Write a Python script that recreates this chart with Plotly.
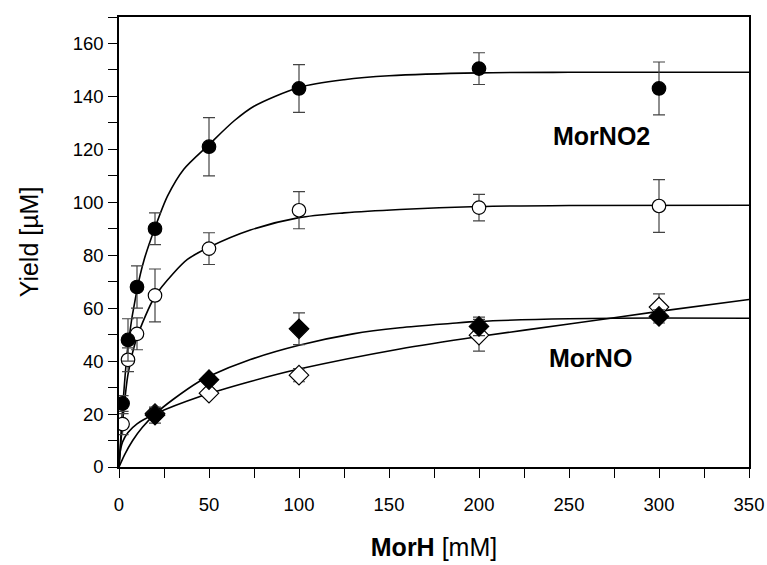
import plotly.graph_objects as go

# ---- data ----
conc = [2, 5, 10, 20, 50, 100, 200, 300]

no2_filled = [24, 48, 68, 90, 121, 143, 150.5, 143]
no2_filled_err = [3, 8, 8, 6, 11, 9, 6, 10]

no2_open = [16.2, 40.5, 50.3, 64.8, 82.5, 97, 98, 98.6]
no2_open_err = [4, 4.5, 6, 10, 6, 7, 5, 10]

conc_d = [20, 50, 100, 200, 300]
no_filled = [19.6, 33, 52.2, 53.1, 56.9]
no_filled_err = [3, 1.5, 6, 3.5, 2.5]

no_open = [20.2, 27.9, 34.7, 49.8, 60.4]
no_open_err = [2, 1.5, 2.5, 6, 5]

# fitted curves
fit1_x = [0, 1, 2, 5, 10, 14, 20, 27, 36, 50, 64, 75, 100, 125, 150, 200, 250, 350]
fit1_y = [0, 11, 22, 46, 67, 78.4, 90.4, 102.4, 112.5, 121.8, 130.8, 136.3, 143.4, 146.3, 147.8, 148.9, 149.1, 149.1]

fit2_x = [0, 1, 2, 5, 10, 20, 30, 38, 50, 73, 100, 125, 156, 200, 250, 350]
fit2_y = [0, 9, 17, 35, 49, 64.5, 73, 78.4, 83, 89.5, 94.2, 96, 97.3, 98.4, 98.8, 98.9]

fit3_x = [0, 1, 3, 7.6, 13, 20, 30, 45, 50, 73, 100, 130, 156, 184, 200, 250, 300, 350]
fit3_y = [0, 1.5, 4.5, 10, 15, 20, 25.5, 32.5, 34.3, 40.6, 46, 50.3, 52.6, 54.2, 55, 56, 56.3, 56.2]

fit4_x = [0, 0.3, 1, 2, 5, 10, 20, 45, 73, 100, 156, 200, 250, 300, 350]
fit4_y = [0, 4, 7, 9.5, 13, 16.3, 20, 26.6, 32.3, 37, 44.6, 49.3, 54, 58.8, 63.3]

FONT = "Liberation Sans, Arial, Helvetica, sans-serif"
ERRC = "#444444"

fig = go.Figure()

for fx, fy in [(fit1_x, fit1_y), (fit2_x, fit2_y), (fit3_x, fit3_y), (fit4_x, fit4_y)]:
    fig.add_trace(go.Scatter(x=fx, y=fy, mode="lines",
                             line=dict(color="black", width=1.6, shape="spline", smoothing=0.8),
                             showlegend=False, hoverinfo="skip"))

def pts(x, y, err, symbol, fill):
    fig.add_trace(go.Scatter(
        x=x, y=y, mode="markers", showlegend=False,
        error_y=dict(type="data", array=err, color=ERRC, thickness=1.2, width=6),
        marker=dict(symbol=symbol, size=13.5 if "circle" in symbol else 15,
                    color=fill, line=dict(color="black", width=1.2))))

pts(conc_d, no_open, no_open_err, "diamond", "white")
pts(conc_d, no_filled, no_filled_err, "diamond", "black")
pts(conc, no2_open, no2_open_err, "circle", "white")
pts(conc, no2_filled, no2_filled_err, "circle", "black")

fig.add_annotation(x=268, y=125, text="<b>MorNO2</b>", showarrow=False,
                   font=dict(family=FONT, size=25, color="black"))
fig.add_annotation(x=262, y=41.2, text="<b>MorNO</b>", showarrow=False,
                   font=dict(family=FONT, size=25, color="black"))

fig.update_layout(
    width=767, height=565,
    margin=dict(l=119, r=18, t=17, b=98),
    paper_bgcolor="white", plot_bgcolor="white",
    font=dict(family=FONT, color="black", size=18),
    xaxis=dict(range=[0, 350], dtick=50, tick0=0, showgrid=False, zeroline=False,
               automargin=False,
               showline=True, linecolor="black", linewidth=1.6, mirror=True,
               ticks="outside", ticklen=9, tickwidth=1.2, tickcolor="black",
               ticklabelstandoff=11,
               minor=dict(dtick=25, ticks="outside", ticklen=9, tickwidth=1.2, tickcolor="black"),
               tickfont=dict(size=18.5),
               title=dict(text="<b>MorH</b> [mM]", font=dict(size=25), standoff=24)),
    yaxis=dict(range=[0, 170], dtick=20, tick0=0, showgrid=False, zeroline=False,
               automargin=False,
               showline=True, linecolor="black", linewidth=1.6, mirror=True,
               ticks="outside", ticklen=9, tickwidth=1.2, tickcolor="black",
               ticklabelstandoff=1,
               minor=dict(dtick=10, ticks="outside", ticklen=9, tickwidth=1.2, tickcolor="black"),
               tickfont=dict(size=18.5),
               title=dict(text="Yield [µM]", font=dict(size=25), standoff=27)),
)

fig.write_html("out.html")
